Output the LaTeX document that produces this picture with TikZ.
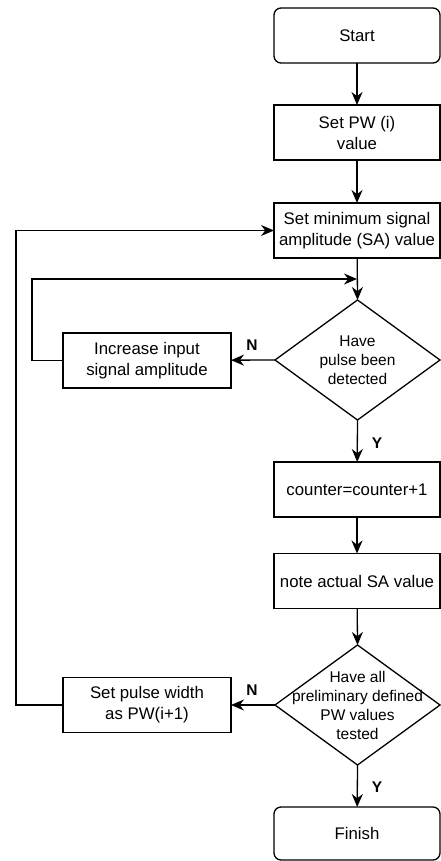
\documentclass[tikz,border=0pt]{standalone}
\usepackage{fontspec}
\setmainfont{Liberation Sans}
\usetikzlibrary{arrows.meta}
\begin{document}
\begin{tikzpicture}[x=1pt,y=-1pt,
  box/.style={draw, line width=1.3pt, inner sep=0pt, outer sep=0pt,
    minimum width=166pt, minimum height=55pt, align=center,
    font=\fontsize{16.8}{21}\selectfont},
  term/.style={box, rounded corners=7pt},
  dec/.style={inner sep=0pt, outer sep=0pt, minimum width=165pt,
    minimum height=120pt, align=center, font=\fontsize{15.5}{19}\selectfont},
  diamondline/.style={draw, line width=1.3pt},
  flow/.style={draw, line width=1.3pt, -{Stealth[length=13pt,width=11pt]}},
  line/.style={draw, line width=1.3pt},
  lbl/.style={inner sep=0pt, font=\bfseries\fontsize{15.5}{15.5}\selectfont}
]
\useasboundingbox (0,0) rectangle (441,861);

% main column
\node[term] (start) at (357,35.5) {Start};
\node[box]  (pw)    at (357,132.5) {Set PW (i)\\value};
\node[box]  (sa)    at (357,230.5) {Set minimum signal\\amplitude (SA) value};
\node[dec]  (d1)    at (357.5,360) {Have\\pulse been\\detected};
\node[box]  (cnt)   at (357,489.5) {counter=counter+1};
\node[box]  (note)  at (357,581) {note actual SA value};
\node[dec]  (d2)    at (357.5,705) {Have all\\preliminary defined\\PW values\\tested};
\node[term, minimum height=53pt] (fin) at (357,833.5) {Finish};

% side boxes
\node[box, minimum width=168pt] (inc)   at (147,360.5) {Increase input\\signal amplitude};
\node[box, minimum width=168pt] (setpw) at (147,705) {Set pulse width\\as PW(i+1)};

% decision outlines
\draw[diamondline] (d1.north) -- (d1.east) -- (d1.south) -- (d1.west) -- cycle;
\draw[diamondline] (d2.north) -- (d2.east) -- (d2.south) -- (d2.west) -- cycle;

% loop corners
\coordinate (j1) at (357,279);
\coordinate (c1) at (32,360.5);
\coordinate (c2) at (16,705);

% connectors
\draw[flow] (start) -- (pw);
\draw[flow] (pw) -- (sa);
\draw[flow] (sa) -- (d1.north);
\draw[flow] (d1.west) -- (inc);
\draw[flow] (inc.west) -- (c1) |- (j1);
\draw[flow] (d1.south) -- (cnt);
\draw[flow] (cnt) -- (note);
\draw[flow] (note) -- (d2.north);
\draw[flow] (d2.west) -- (setpw);
\draw[flow] (setpw.west) -- (c2) |- (sa.west);
\draw[flow] (d2.south) -- (fin);

% branch labels
\node[lbl] (n1) at (252,345) {N};
\node[lbl] (n2) at (252,690) {N};
\node[lbl] (y1) at (377,443) {Y};
\node[lbl] (y2) at (377,787) {Y};
\end{tikzpicture}
\end{document}
